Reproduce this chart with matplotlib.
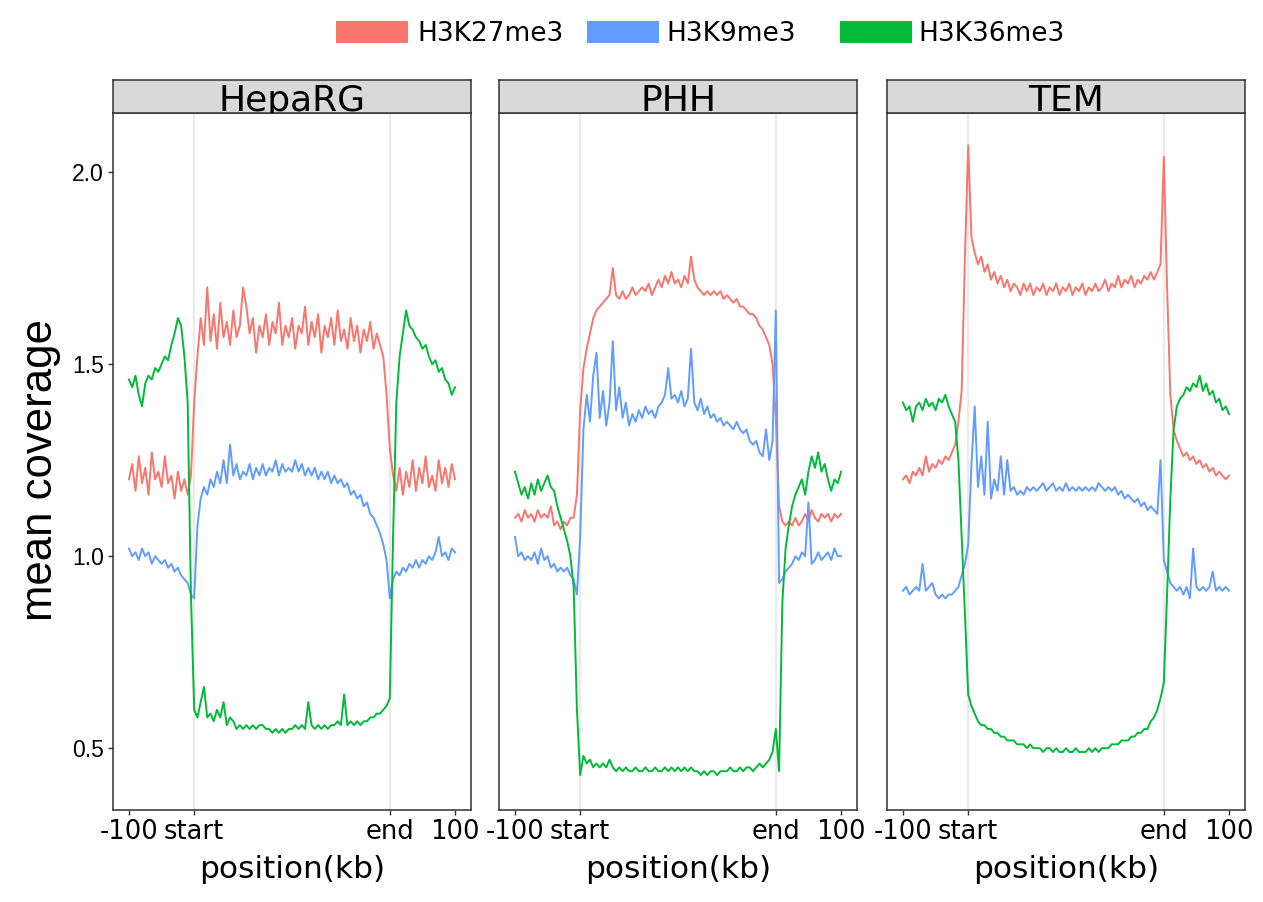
import matplotlib
matplotlib.use("Agg")
import matplotlib.pyplot as plt
from matplotlib.patches import Rectangle

# ---------------- data ----------------
positions = list(range(0, 1001, 10))          # 0 = -100kb, 200 = start, 800 = end, 1000 = +100kb
tick_positions = [0, 200, 800, 1000]
tick_labels = ["-100", "start", "end", "100"]
panels = ["HepaRG", "PHH", "TEM"]
marks = ["H3K27me3", "H3K9me3", "H3K36me3"]
colors = ["#F8766D", "#619CFF", "#00BA38"]

heparg_k27 = [1.20,1.24,1.17,1.26,1.19,1.23,1.16,1.27,1.20,1.22,
              1.18,1.26,1.19,1.21,1.15,1.22,1.17,1.20,1.16,1.21,
              1.40,1.52,1.62,1.55,1.70,1.56,1.63,1.54,1.66,1.57,
              1.61,1.55,1.64,1.57,1.60,1.70,1.65,1.58,1.62,1.53,
              1.60,1.57,1.63,1.55,1.61,1.58,1.66,1.55,1.60,1.57,
              1.62,1.54,1.60,1.58,1.65,1.55,1.61,1.57,1.63,1.53,
              1.60,1.57,1.62,1.55,1.64,1.56,1.59,1.54,1.62,1.56,
              1.60,1.53,1.59,1.56,1.61,1.54,1.58,1.55,1.52,1.42,
              1.28,1.21,1.17,1.23,1.16,1.22,1.18,1.25,1.17,1.23,
              1.19,1.26,1.18,1.21,1.17,1.25,1.19,1.23,1.18,1.24,1.20]
heparg_k9 = [1.02,1.00,1.01,0.99,1.02,1.00,1.01,0.98,1.00,0.99,
             0.98,0.99,0.97,0.98,0.96,0.97,0.95,0.94,0.93,0.90,
             0.89,1.08,1.15,1.18,1.16,1.20,1.18,1.22,1.19,1.25,
             1.19,1.29,1.21,1.24,1.20,1.22,1.21,1.24,1.20,1.23,
             1.21,1.24,1.21,1.23,1.22,1.25,1.21,1.24,1.22,1.23,
             1.22,1.25,1.22,1.24,1.21,1.23,1.21,1.23,1.20,1.22,
             1.20,1.22,1.19,1.21,1.19,1.20,1.18,1.19,1.16,1.17,
             1.15,1.16,1.13,1.14,1.11,1.10,1.08,1.06,1.03,0.99,
             0.89,0.94,0.96,0.95,0.97,0.96,0.98,0.97,0.99,0.97,
             0.99,0.98,1.00,0.99,1.01,1.05,1.00,1.01,0.99,1.02,1.01]
heparg_k36 = [1.46,1.44,1.47,1.42,1.39,1.45,1.47,1.46,1.49,1.48,
              1.50,1.52,1.51,1.55,1.58,1.62,1.60,1.52,1.40,0.90,
              0.60,0.58,0.62,0.66,0.58,0.59,0.57,0.60,0.58,0.62,
              0.56,0.58,0.57,0.55,0.56,0.55,0.56,0.55,0.56,0.55,
              0.56,0.56,0.55,0.55,0.54,0.55,0.54,0.55,0.54,0.55,
              0.55,0.56,0.55,0.56,0.55,0.62,0.56,0.55,0.56,0.55,
              0.56,0.55,0.56,0.56,0.57,0.56,0.64,0.56,0.57,0.56,
              0.57,0.56,0.57,0.57,0.58,0.58,0.59,0.59,0.60,0.61,
              0.63,1.05,1.40,1.52,1.58,1.64,1.60,1.59,1.57,1.56,
              1.54,1.55,1.52,1.50,1.51,1.48,1.49,1.46,1.45,1.42,1.44]

phh_k27 = [1.10,1.11,1.09,1.12,1.10,1.11,1.09,1.12,1.10,1.11,
           1.10,1.13,1.08,1.09,1.07,1.09,1.08,1.10,1.10,1.16,
           1.38,1.49,1.54,1.58,1.62,1.64,1.65,1.66,1.67,1.68,
           1.75,1.68,1.67,1.69,1.67,1.68,1.70,1.68,1.69,1.70,
           1.69,1.71,1.68,1.70,1.72,1.70,1.73,1.71,1.74,1.71,
           1.72,1.70,1.73,1.71,1.78,1.72,1.70,1.69,1.68,1.69,
           1.68,1.69,1.68,1.69,1.67,1.68,1.67,1.66,1.67,1.65,
           1.65,1.64,1.63,1.63,1.62,1.60,1.59,1.57,1.55,1.50,
           1.36,1.13,1.09,1.08,1.09,1.08,1.10,1.08,1.09,1.11,
           1.09,1.12,1.10,1.09,1.11,1.10,1.11,1.09,1.11,1.10,1.11]
phh_k9 = [1.05,1.00,1.01,0.99,1.00,0.99,1.01,0.98,1.02,0.99,
          1.00,0.97,0.98,0.96,0.97,0.96,0.97,0.95,0.94,0.90,
          1.05,1.33,1.42,1.35,1.47,1.53,1.36,1.43,1.34,1.40,
          1.56,1.38,1.44,1.36,1.40,1.34,1.37,1.35,1.38,1.36,
          1.39,1.37,1.38,1.36,1.39,1.40,1.42,1.49,1.41,1.42,
          1.40,1.43,1.39,1.41,1.54,1.40,1.38,1.41,1.37,1.39,
          1.36,1.37,1.35,1.36,1.34,1.35,1.34,1.33,1.35,1.33,
          1.32,1.33,1.30,1.29,1.30,1.27,1.26,1.33,1.25,1.30,
          1.64,0.93,0.94,0.96,0.97,0.98,1.00,0.99,1.01,1.00,
          1.14,0.98,0.99,1.01,0.99,1.00,1.01,0.99,1.02,1.00,1.00]
phh_k36 = [1.22,1.19,1.16,1.18,1.15,1.19,1.16,1.20,1.17,1.19,
           1.21,1.18,1.17,1.13,1.10,1.07,1.04,1.00,0.92,0.60,
           0.43,0.48,0.46,0.47,0.45,0.46,0.45,0.46,0.45,0.47,
           0.45,0.44,0.45,0.44,0.45,0.44,0.44,0.45,0.44,0.44,
           0.45,0.44,0.44,0.45,0.44,0.44,0.45,0.44,0.45,0.44,
           0.45,0.44,0.45,0.44,0.45,0.44,0.44,0.43,0.44,0.43,
           0.44,0.44,0.43,0.44,0.44,0.44,0.45,0.44,0.44,0.45,
           0.44,0.45,0.45,0.44,0.45,0.46,0.45,0.46,0.47,0.49,
           0.55,0.44,0.88,1.02,1.08,1.13,1.16,1.18,1.20,1.16,
           1.22,1.26,1.23,1.27,1.22,1.24,1.20,1.17,1.20,1.19,1.22]

tem_k27 = [1.20,1.21,1.19,1.22,1.21,1.23,1.21,1.26,1.22,1.24,
           1.23,1.25,1.24,1.26,1.25,1.27,1.29,1.35,1.43,1.78,
           2.07,1.83,1.79,1.76,1.78,1.74,1.76,1.72,1.74,1.71,
           1.73,1.70,1.72,1.69,1.71,1.70,1.68,1.71,1.69,1.71,
           1.68,1.70,1.69,1.71,1.68,1.70,1.69,1.71,1.68,1.70,
           1.69,1.71,1.68,1.70,1.69,1.71,1.68,1.70,1.69,1.71,
           1.69,1.70,1.72,1.69,1.71,1.70,1.73,1.70,1.72,1.71,
           1.73,1.70,1.72,1.71,1.73,1.72,1.74,1.72,1.74,1.76,
           2.04,1.70,1.42,1.33,1.30,1.28,1.26,1.27,1.25,1.26,
           1.24,1.25,1.23,1.24,1.22,1.23,1.21,1.22,1.21,1.20,1.21]
tem_k9 = [0.91,0.92,0.90,0.91,0.92,0.91,0.98,0.91,0.92,0.93,
          0.90,0.89,0.90,0.89,0.90,0.90,0.91,0.92,0.95,0.98,
          1.03,1.24,1.39,1.18,1.26,1.16,1.35,1.15,1.20,1.17,
          1.26,1.16,1.25,1.17,1.18,1.16,1.17,1.16,1.18,1.17,
          1.18,1.17,1.18,1.19,1.17,1.18,1.19,1.17,1.18,1.17,
          1.19,1.17,1.18,1.17,1.18,1.17,1.18,1.17,1.18,1.17,
          1.19,1.18,1.17,1.18,1.17,1.18,1.16,1.17,1.15,1.16,
          1.15,1.14,1.15,1.13,1.14,1.12,1.13,1.12,1.11,1.25,
          0.99,0.96,0.93,0.92,0.91,0.92,0.90,0.92,0.89,1.02,
          0.92,0.91,0.92,0.91,0.92,0.96,0.91,0.92,0.91,0.92,0.91]
tem_k36 = [1.40,1.38,1.39,1.35,1.39,1.40,1.38,1.41,1.39,1.40,
           1.38,1.41,1.40,1.42,1.39,1.37,1.35,1.25,1.05,0.85,
           0.64,0.61,0.59,0.57,0.56,0.56,0.55,0.55,0.54,0.54,
           0.53,0.53,0.52,0.52,0.52,0.51,0.51,0.51,0.50,0.51,
           0.50,0.50,0.50,0.49,0.50,0.50,0.49,0.50,0.49,0.49,
           0.50,0.49,0.49,0.50,0.49,0.49,0.49,0.50,0.49,0.50,
           0.49,0.50,0.50,0.50,0.51,0.51,0.51,0.52,0.52,0.52,
           0.53,0.53,0.54,0.54,0.55,0.55,0.57,0.58,0.60,0.63,
           0.67,0.90,1.15,1.33,1.39,1.41,1.42,1.44,1.43,1.45,
           1.44,1.47,1.43,1.45,1.42,1.43,1.40,1.41,1.38,1.39,1.37]

series = {
    "HepaRG": [heparg_k27, heparg_k9, heparg_k36],
    "PHH": [phh_k27, phh_k9, phh_k36],
    "TEM": [tem_k27, tem_k9, tem_k36],
}
yticks = [0.5, 1.0, 1.5, 2.0]

# ---------------- layout ----------------
W, H = 1263, 902
fig = plt.figure(figsize=(W / 100, H / 100), dpi=100)
fig.patch.set_facecolor("white")

panel_left_px = [113, 499, 887]
panel_w_px = 358
panel_top_px, panel_bot_px = 113, 810
strip_top_px = 80
edge = "#333333"

for i, name in enumerate(panels):
    l = panel_left_px[i]
    ax = fig.add_axes([l / W, 1 - panel_bot_px / H, panel_w_px / W,
                       (panel_bot_px - panel_top_px) / H])
    ax.set_facecolor("white")
    for xv in (200, 800):
        ax.axvline(xv, color="#EBEBEB", lw=1.6, zorder=0)
    for vals, c in zip(series[name], colors):
        ax.plot(positions, vals, color=c, lw=1.4, solid_joinstyle="round")
    ax.set_xlim(-49, 1049)
    ax.set_ylim(0.339, 2.154)
    ax.set_xticks(tick_positions)
    ax.set_xticklabels(tick_labels, fontsize=18.5, family="DejaVu Sans", color="black")
    ax.tick_params(axis="x", length=3.5, width=1.0, color=edge, pad=3)
    if i == 0:
        ax.set_yticks(yticks)
        ax.set_yticklabels([f"{v:.1f}" for v in yticks], fontsize=16.5,
                           family="Liberation Sans", color="black")
        ax.tick_params(axis="y", length=3.5, width=1.0, color=edge, pad=3)
    else:
        ax.set_yticks([])
    for sp in ax.spines.values():
        sp.set_color(edge)
        sp.set_linewidth(1.1)

    # strip
    sax = fig.add_axes([l / W, 1 - panel_top_px / H, panel_w_px / W,
                        (panel_top_px - strip_top_px) / H])
    sax.set_facecolor("#D9D9D9")
    sax.set_xticks([])
    sax.set_yticks([])
    for sp in sax.spines.values():
        sp.set_color(edge)
        sp.set_linewidth(1.1)
    t = sax.text(0.5, 0.07, name, transform=sax.transAxes, ha="center",
                 va="baseline", fontsize=26, family="DejaVu Sans", color="black")
    t.set_clip_on(True)

    # x label
    fig.text((l + panel_w_px / 2) / W, 1 - 878 / H, "position(kb)", ha="center",
             va="baseline", fontsize=22.5, family="DejaVu Sans", color="black")

# y label
fig.text(41 / W, 1 - 470 / H, "mean coverage", rotation=90, ha="center",
         va="center", fontsize=31.5, family="Liberation Sans", color="black")

# legend
patch_x = [336, 587, 840]
text_x = [417, 666, 918]
for px, tx, c, lab in zip(patch_x, text_x, colors, marks):
    fig.add_artist(Rectangle((px / W, 1 - 43 / H), 72 / W, 22 / H,
                             transform=fig.transFigure, facecolor=c,
                             edgecolor="none"))
    fig.text(tx / W, 1 - 34 / H, lab, ha="left", va="center", fontsize=19,
             family="DejaVu Sans", color="black")

fig.savefig("out.png", dpi=100)
